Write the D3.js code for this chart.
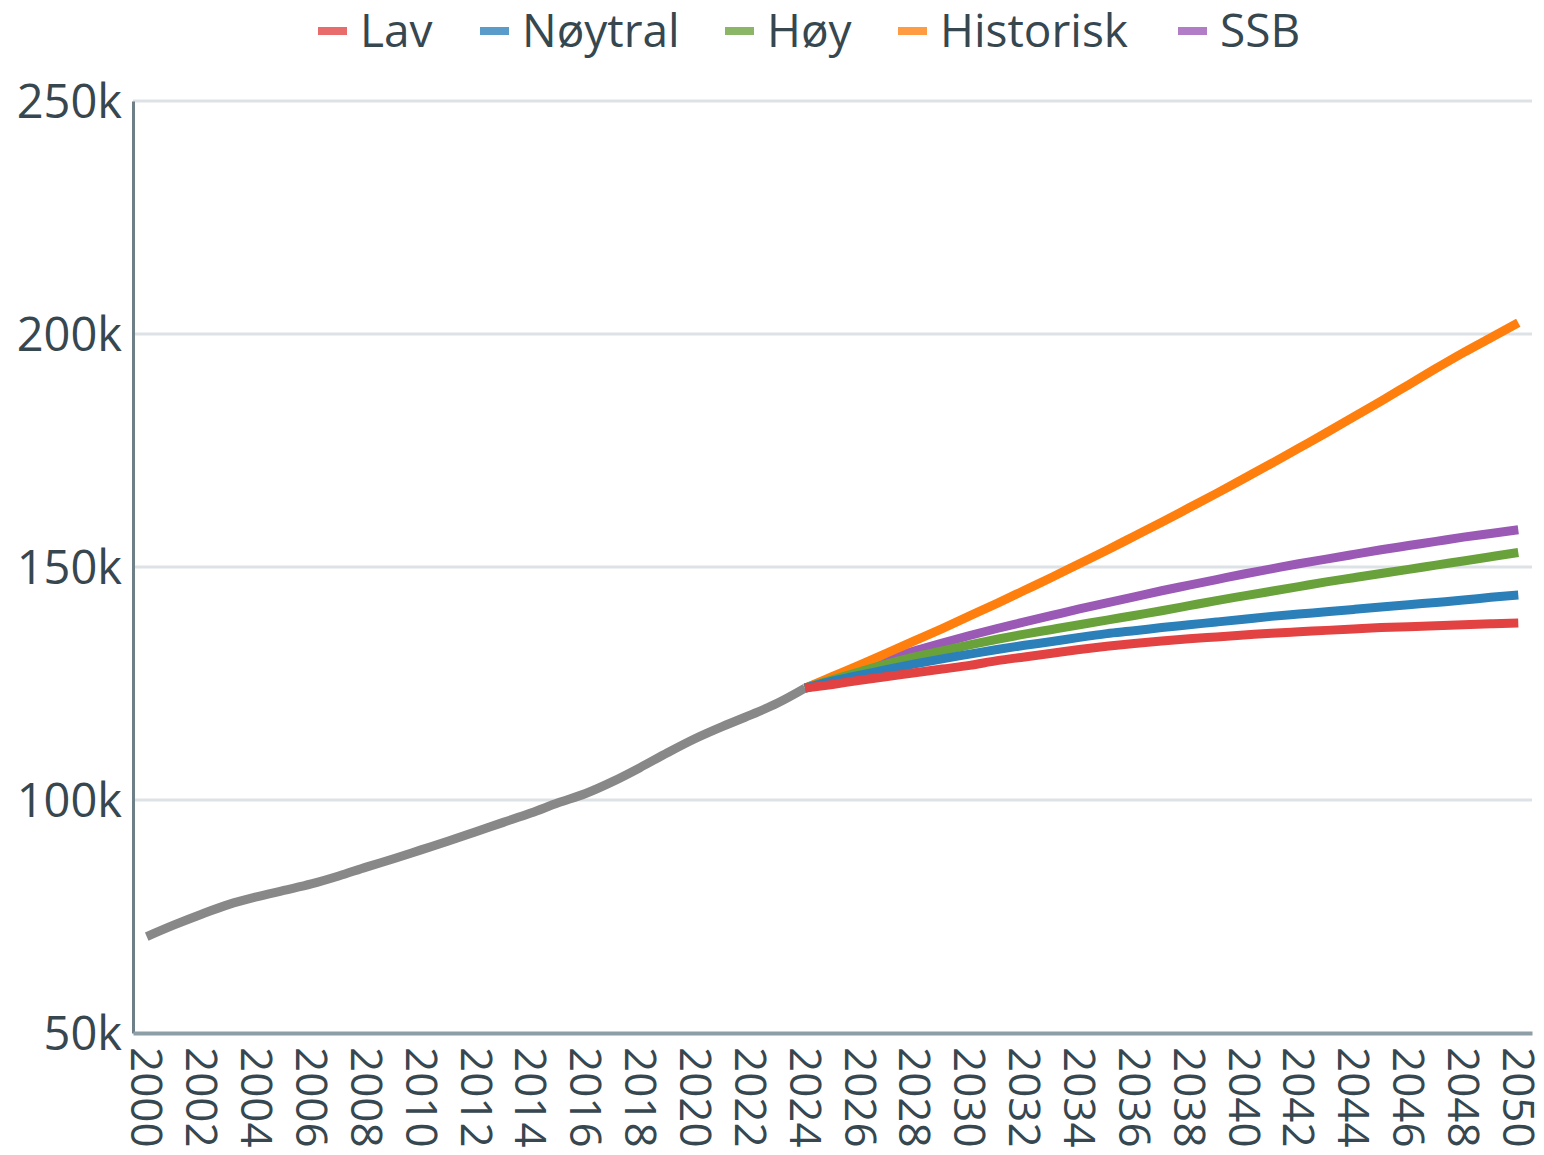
<!DOCTYPE html>
<html>
<head>
<meta charset="utf-8">
<script src="https://cdn.jsdelivr.net/npm/d3@7"></script>
<style>
  html, body { margin: 0; padding: 0; background: #fff; }
  #chart { width: 1544px; height: 1155px; }
  text { font-family: "Open Sans", sans-serif; fill: #37474f; }
</style>
</head>
<body>
<div id="chart"></div>
<script>
// historic years 2000-2024, forecast years 2024-2050
const histYears = d3.range(2000, 2025);
const fcYears = d3.range(2024, 2051);

const historic = [70.7, 73.2, 75.5, 77.6, 79.2, 80.6, 82.0, 83.7, 85.6, 87.4,
  89.3, 91.2, 93.2, 95.2, 97.2, 99.4, 101.4, 104.0, 107.0, 110.2,
  113.2, 115.8, 118.2, 120.8, 124.0];

const lav = [124.0, 124.8, 125.7, 126.5, 127.3, 128.1, 128.9, 129.9, 130.7, 131.5,
  132.3, 133.0, 133.6, 134.1, 134.6, 135.0, 135.4, 135.8, 136.1, 136.4,
  136.7, 137.0, 137.2, 137.4, 137.6, 137.8, 138.0];
const noytral = [124.0, 125.5, 126.8, 128.0, 129.2, 130.3, 131.3, 132.3, 133.2, 134.0,
  134.9, 135.7, 136.3, 137.0, 137.6, 138.2, 138.8, 139.4, 139.9, 140.4,
  140.9, 141.4, 141.9, 142.4, 142.9, 143.5, 144.0];
const hoy = [124.0, 125.8, 127.5, 129.2, 130.7, 132.0, 133.3, 134.5, 135.6, 136.6,
  137.6, 138.6, 139.6, 140.6, 141.7, 142.8, 143.8, 144.8, 145.8, 146.8,
  147.7, 148.6, 149.5, 150.4, 151.3, 152.2, 153.1];
const historisk = [124.0, 126.5, 129.0, 131.6, 134.2, 136.8, 139.5, 142.2, 145.0, 147.8,
  150.7, 153.6, 156.6, 159.6, 162.7, 165.8, 169.0, 172.2, 175.5, 178.8,
  182.2, 185.6, 189.1, 192.6, 196.0, 199.2, 202.4];
const ssb = [124.0, 126.2, 128.3, 130.2, 132.0, 133.7, 135.3, 136.8, 138.2, 139.6,
  141.0, 142.3, 143.6, 144.9, 146.1, 147.3, 148.5, 149.6, 150.7, 151.7,
  152.7, 153.7, 154.6, 155.5, 156.4, 157.2, 158.0];

const seriesNames = ["Lav", "Nøytral", "Høy", "Historisk", "SSB"];
const seriesValues = [lav, noytral, hoy, historisk, ssb];
const seriesColors = ["#e34242", "#2b80ba", "#69a23a", "#ff7f0e", "#9b59b6"];
const yTicks = [50, 100, 150, 200, 250];
const xTicks = d3.range(2000, 2051, 2);

function draw() {
  const W = 1544, H = 1155;
  const margin = { top: 101, right: 12, bottom: 122, left: 133 };

  const svg = d3.select("#chart").append("svg")
    .attr("width", W)
    .attr("height", H);

  const x = d3.scalePoint()
    .domain(d3.range(2000, 2051))
    .range([margin.left, W - margin.right])
    .padding(0.5);

  const y = d3.scaleLinear()
    .domain([50, 250])
    .range([H - margin.bottom, margin.top]);

  // gridlines
  svg.append("g")
    .selectAll("line")
    .data(yTicks.slice(1))
    .join("line")
    .attr("x1", margin.left)
    .attr("x2", W - margin.right)
    .attr("y1", d => y(d))
    .attr("y2", d => y(d))
    .attr("stroke", "#dde2e6")
    .attr("stroke-width", 3);

  // y axis
  const yAxis = svg.append("g")
    .attr("transform", `translate(${margin.left},0)`)
    .call(d3.axisLeft(y).tickValues(yTicks).tickSize(0).tickPadding(11).tickFormat(d => d + "k"));
  yAxis.select(".domain").attr("stroke", "#6e7f88").attr("stroke-width", 3);
  yAxis.selectAll("text").style("font-size", "47px").attr("dy", "0.36em");

  // x axis
  const xAxis = svg.append("g")
    .attr("transform", `translate(0,${H - margin.bottom})`)
    .call(d3.axisBottom(x).tickValues(xTicks).tickSize(0).tickPadding(0));
  xAxis.select(".domain").attr("stroke", "#8e9ea6").attr("stroke-width", 4);
  xAxis.selectAll("text")
    .style("font-size", "44px")
    .attr("y", 0)
    .attr("dy", "0.36em")
    .attr("text-anchor", "start")
    .attr("transform", "translate(0,14) rotate(90)");

  const line = d3.line()
    .x(d => x(d[0]))
    .y(d => y(d[1]))
    .curve(d3.curveMonotoneX);

  svg.append("path")
    .datum(histYears.map((yr, i) => [yr, historic[i]]))
    .attr("d", line)
    .attr("fill", "none")
    .attr("stroke", "#888888")
    .attr("stroke-width", 9);

  // draw forecasts from SSB back to Lav so Lav ends on top
  const order = [4, 3, 2, 1, 0];
  svg.append("g")
    .selectAll("path")
    .data(order)
    .join("path")
    .attr("d", i => line(fcYears.map((yr, j) => [yr, seriesValues[i][j]])))
    .attr("fill", "none")
    .attr("stroke", i => seriesColors[i])
    .attr("stroke-width", 9);

  // legend
  const legendX = [318, 480, 725, 898, 1178];
  const legend = svg.append("g");
  seriesNames.forEach((name, i) => {
    const g = legend.append("g").attr("transform", `translate(${legendX[i]},31)`);
    g.append("rect")
      .attr("x", 0).attr("y", -4)
      .attr("width", 29).attr("height", 8)
      .attr("fill", seriesColors[i])
      .attr("opacity", 0.78);
    g.append("text")
      .attr("x", 42)
      .attr("y", 16)
      .style("font-size", "46px")
      .text(name);
  });
}

draw();
</script>
</body>
</html>
